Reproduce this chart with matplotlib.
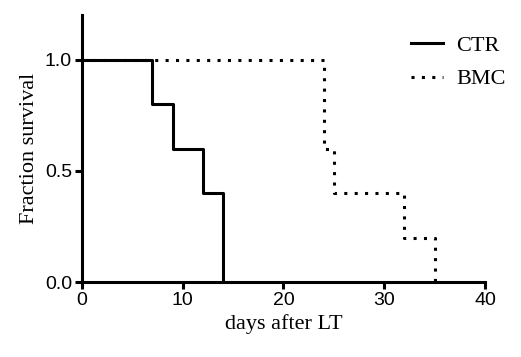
import matplotlib
matplotlib.use("Agg")
import matplotlib.pyplot as plt

ctr_days = [0, 7, 9, 12, 14]
ctr_surv = [1.0, 0.8, 0.6, 0.4, 0.0]
bmc_days = [0, 24, 25, 32, 35]
bmc_surv = [1.0, 0.6, 0.4, 0.2, 0.0]
xticks = [0, 10, 20, 30, 40]
yticks = [0.0, 0.5, 1.0]

fig = plt.figure(figsize=(5.21, 3.57), dpi=100)
ax = fig.add_axes([0.157, 0.21, 0.774, 0.748])

ax.step(ctr_days, ctr_surv, where='post', color='black', lw=2.2, label='CTR')
ax.step(bmc_days, bmc_surv, where='post', color='black', lw=2.2,
        linestyle=(0, (1, 2.4)), label='BMC')

ax.set_xlim(0, 40)
ax.set_ylim(0, 1.2)
ax.set_xticks(xticks)
ax.set_yticks(yticks)
ax.set_yticklabels(['0.0', '0.5', '1.0'])
for s in ['top', 'right']:
    ax.spines[s].set_visible(False)
for s in ['left', 'bottom']:
    ax.spines[s].set_linewidth(2.2)
ax.tick_params(width=2.2, length=5, direction='out', labelsize=14, pad=2)
for lab in ax.get_xticklabels() + ax.get_yticklabels():
    lab.set_fontfamily('Liberation Sans')

ax.set_xlabel('days after LT', fontsize=16, fontfamily='Liberation Serif', labelpad=4)
ax.set_ylabel('Fraction survival', fontsize=16, fontfamily='Liberation Serif', labelpad=4)

leg = ax.legend(loc='upper right', bbox_to_anchor=(1.1, 1.0), frameon=False,
                prop={'family': 'Liberation Serif', 'size': 16},
                handlelength=1.4, handletextpad=0.6, labelspacing=0.6)
fig.savefig('out.png', dpi=100)
